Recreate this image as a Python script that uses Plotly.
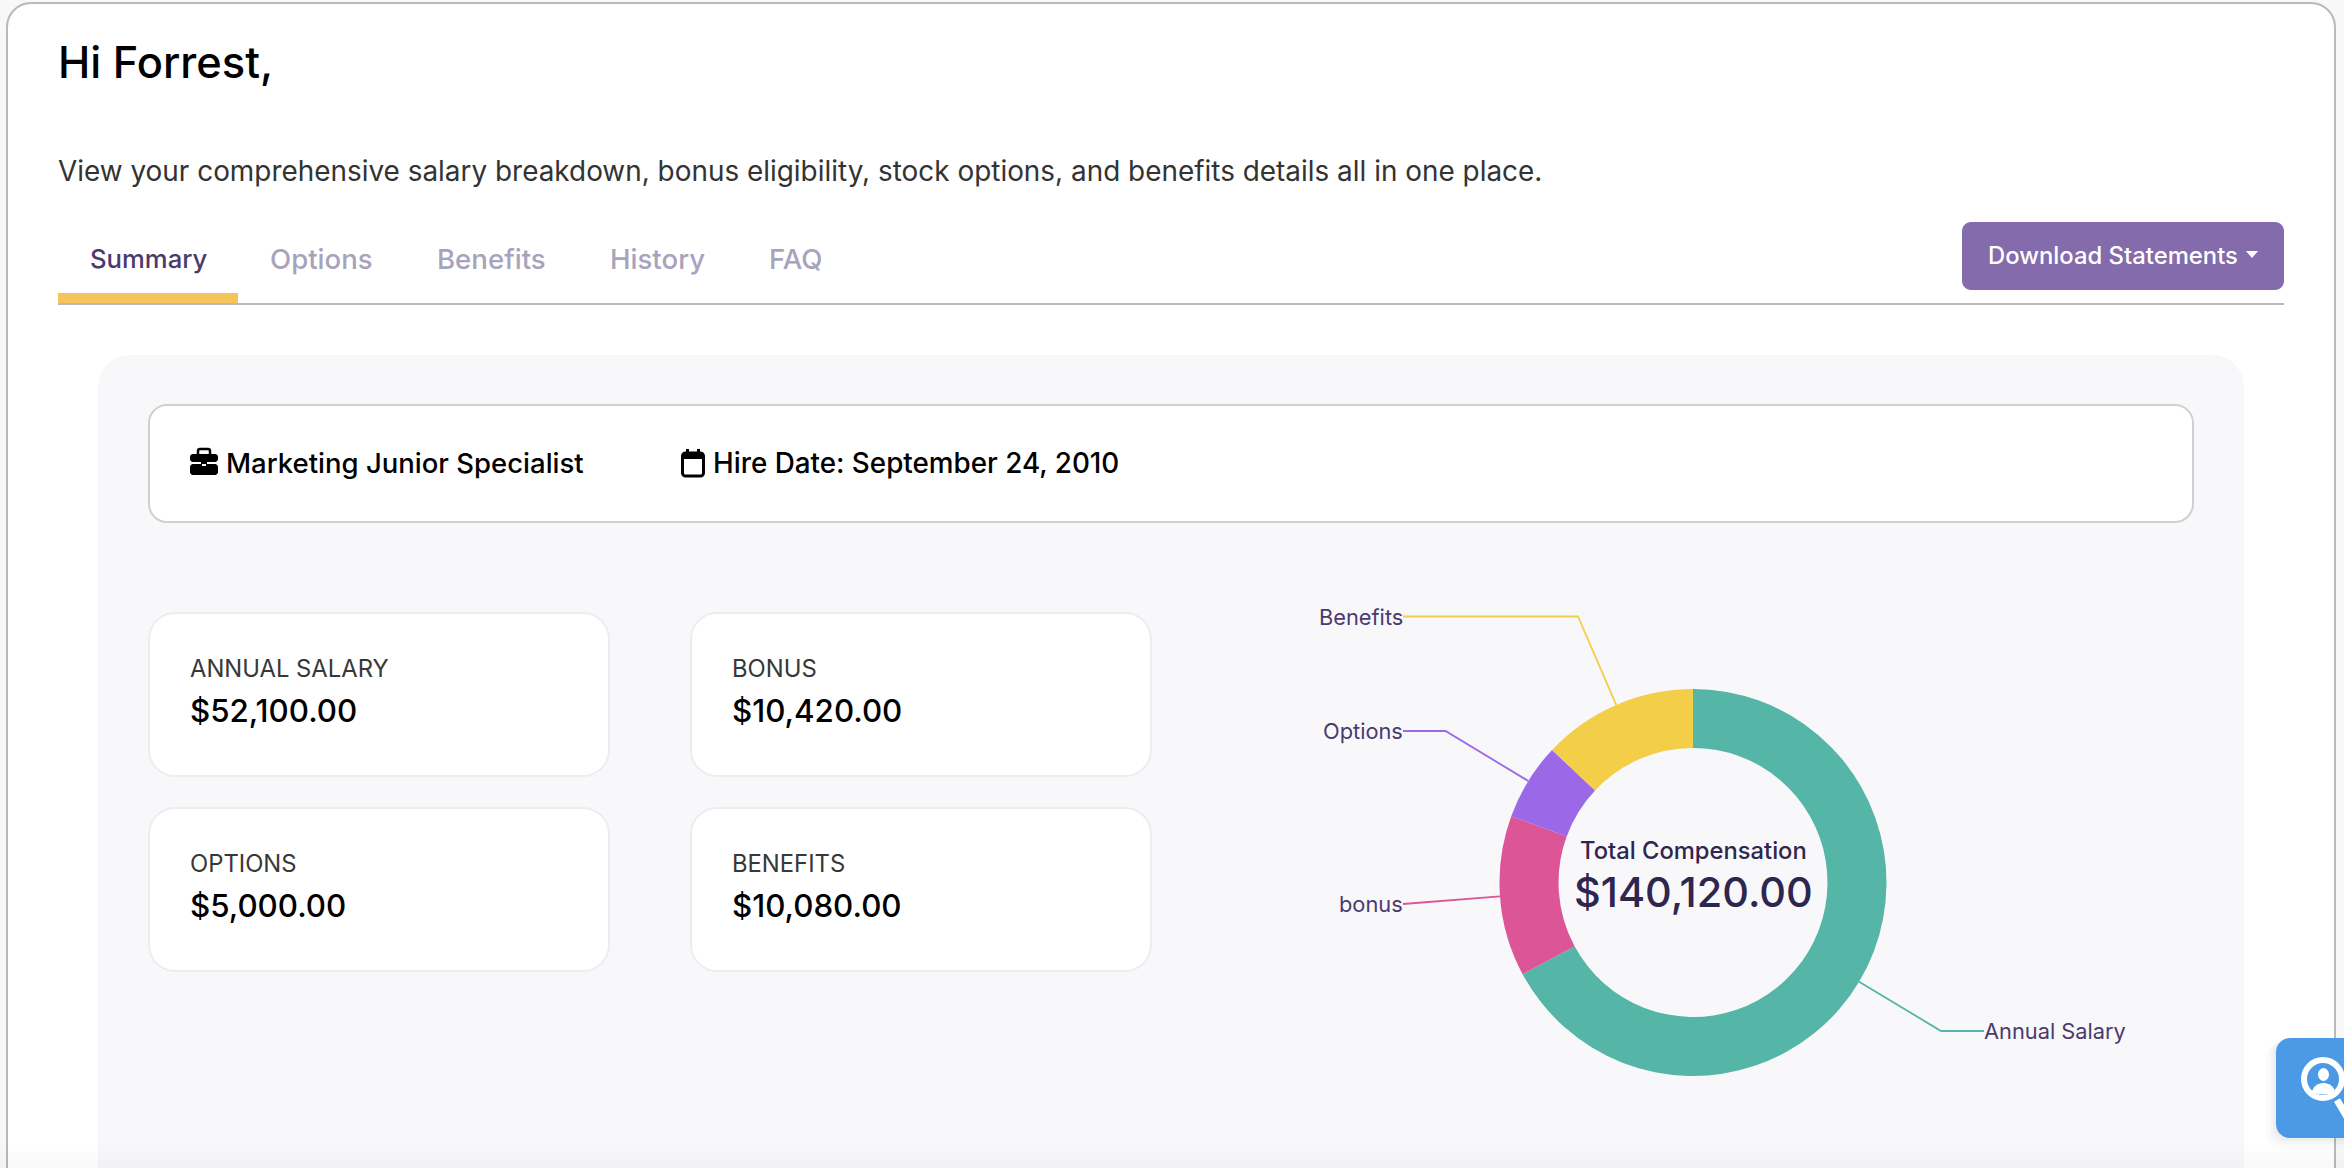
import math
import plotly.graph_objects as go

W = 2344
H = 1168

# chart data
categories = ["Annual Salary", "bonus", "Options", "Benefits"]
values = [52100, 10420, 5000, 10080]
slice_colors = ["#55B5A6", "#DB5597", "#9B68E8", "#F3CE49"]
total_label = "Total Compensation"
total_value = "$140,120.00"

# page text
tabs = ["Summary", "Options", "Benefits", "History", "FAQ"]
tab_x = [90, 270, 437, 610, 769]
card_labels = ["ANNUAL SALARY", "BONUS", "OPTIONS", "BENEFITS"]
card_values = ["$52,100.00", "$10,420.00", "$5,000.00", "$10,080.00"]

FONT = "Inter"
CX, CY, R = 1693, 882.5, 193.5
HOLE = 0.695


def rrect(x0, y0, x1, y1, r, fill, line=None, lw=0):
    k = r * 0.45
    path = (f"M{x0+r},{y0} L{x1-r},{y0} C{x1-k},{y0} {x1},{y0+k} {x1},{y0+r} "
            f"L{x1},{y1-r} C{x1},{y1-k} {x1-k},{y1} {x1-r},{y1} "
            f"L{x0+r},{y1} C{x0+k},{y1} {x0},{y1-k} {x0},{y1-r} "
            f"L{x0},{y0+r} C{x0},{y0+k} {x0+k},{y0} {x0+r},{y0} Z")
    return dict(type="path", path=path, fillcolor=fill, xref="x", yref="y",
                line=dict(color=line or "rgba(0,0,0,0)", width=lw), layer="below")


def rect(x0, y0, x1, y1, fill):
    return dict(type="rect", x0=x0, y0=y0, x1=x1, y1=y1, fillcolor=fill,
                line=dict(width=0), xref="x", yref="y", layer="below")


def poly(path, fill=None, line=None, lw=0):
    return dict(type="path", path=path, fillcolor=fill or "rgba(0,0,0,0)", xref="x", yref="y",
                line=dict(color=line or "rgba(0,0,0,0)", width=lw), layer="above")


def text(x, y, s, size, color, weight=400, anchor="left"):
    # annotations sit a little inside their anchor
    shift = {"left": -2, "right": 3, "center": 0}[anchor]
    return dict(x=x, y=y, xref="x", yref="y", xshift=shift, text=s, showarrow=False,
                xanchor=anchor, yanchor="middle", align=anchor,
                font=dict(family=FONT, size=size, color=color, weight=weight))


shapes = []
annotations = []

# page frame
shapes.append(rrect(7, 3, 2335, 1250, 24, "#FFFFFF", "#B9B9B9", 2))
shapes.append(rrect(98, 355, 2244, 1260, 32, "#F8F8FA"))

# header
annotations.append(text(58, 62, "Hi Forrest,", 43.4, "#000000", 500))
annotations.append(text(58, 171, "View your comprehensive salary breakdown, bonus eligibility, stock options, "
                                 "and benefits details all in one place.", 27.92, "#333333"))
for i, tab in enumerate(tabs):
    if i == 0:
        annotations.append(text(tab_x[i], 258, tab, 25.7, "#4B3A6E", 500))
    else:
        annotations.append(text(tab_x[i], 259, tab, 27.6, "#A8A3BD", 500))
shapes.append(rect(58, 293, 238, 303, "#F7C45C"))
shapes.append(rect(58, 303, 2284, 305, "#B9B9B9"))

# download button
shapes.append(rrect(1962, 222, 2284, 290, 9, "#846BAB"))
annotations.append(text(1988, 255, "Download Statements", 23.85, "#FFFFFF", 500))
shapes.append(poly("M2246,251 L2258,251 L2252,258 Z", "#FFFFFF"))

# job info box
shapes.append(rrect(149, 405, 2193, 522, 18, "#FFFFFF", "#D0D0D0", 2))
annotations.append(text(226, 463, "Marketing Junior Specialist", 27.5, "#000000", 500))
annotations.append(text(713, 463, "Hire Date: September 24, 2010", 27.8, "#000000", 500))

# briefcase icon
shapes.append(poly("M198,454 L198,451 Q198,449 200,449 L208,449 Q210,449 210,451 L210,454", None, "#000000", 2.5))
shapes.append(rrect(190, 454, 218, 462, 3, "#000000"))
shapes[-1]["layer"] = "above"
shapes.append(rrect(190, 464, 218, 475, 3, "#000000"))
shapes[-1]["layer"] = "above"
shapes.append(rect(201, 462, 207, 467, "#000000"))
shapes[-1]["layer"] = "above"
shapes.append(rect(202, 464, 206, 466, "#FFFFFF"))
shapes[-1]["layer"] = "above"

# calendar icon
shapes.append(rrect(682.5, 453, 703.5, 476, 3, "#FFFFFF", "#000000", 3))
shapes[-1]["layer"] = "above"
shapes.append(rect(682, 453, 704, 459, "#000000"))
shapes[-1]["layer"] = "above"
shapes.append(rect(686, 449, 689, 454, "#000000"))
shapes[-1]["layer"] = "above"
shapes.append(rect(697, 449, 700, 454, "#000000"))
shapes[-1]["layer"] = "above"

# stat cards
card_x = [149, 691, 149, 691]
card_y = [613, 613, 808, 808]
for i in range(4):
    shapes.append(rrect(card_x[i], card_y[i], card_x[i] + 460, card_y[i] + 163, 26, "#FFFFFF", "#ECEDF1", 2))
    annotations.append(text(card_x[i] + 41, card_y[i] + 55, card_labels[i], 23.8, "#383838"))
    annotations.append(text(card_x[i] + 41, card_y[i] + 97.5, card_values[i], 31.3, "#000000", 500))

# donut leader lines, anchored on the middle of each slice
label_y = [1031, 904, 731, 616.5]
elbow_x = [1941, None, 1445.5, 1578]
label_x = [1984, 1403, 1403, 1403]
total = sum(values)
acc = 0
for i, name in enumerate(categories):
    mid = (acc + values[i] / 2) / total * 2 * math.pi
    acc += values[i]
    px = CX + R * math.sin(mid)
    py = CY - R * math.cos(mid)
    path = f"M{px:.1f},{py:.1f} "
    if elbow_x[i] is not None:
        path += f"L{elbow_x[i]},{label_y[i]} "
    path += f"L{label_x[i]},{label_y[i]}"
    shapes.append(poly(path, None, slice_colors[i], 1.8))
    anchor = "left" if i == 0 else "right"
    offset = 0 if i == 0 else -1
    annotations.append(text(label_x[i] + offset, label_y[i], name, 21.8, "#4B3A6E", 400, anchor))

annotations.append(text(CX, 850, total_label, 23.75, "#2F2650", 500, "center"))
annotations.append(text(CX, 892, total_value, 41.4, "#2F2650", 500, "center"))

# help widget
for spread, alpha in [(10, 0.02), (6, 0.03), (3, 0.04)]:
    shapes.append(rrect(2276 - spread, 1038 + spread / 2, 2370, 1138 + spread, 14, f"rgba(60,70,110,{alpha})"))
    shapes[-1]["layer"] = "above"
shapes.append(rrect(2276, 1038, 2380, 1138, 14, "#4A9AE6"))
shapes[-1]["layer"] = "above"
shapes.append(dict(type="circle", x0=2304, y0=1060, x1=2342, y1=1098, xref="x", yref="y", layer="above",
                   fillcolor="rgba(0,0,0,0)", line=dict(color="#FFFFFF", width=6)))
shapes.append(poly("M2337,1100 L2350,1122", None, "#FFFFFF", 7))
shapes.append(dict(type="circle", x0=2318, y0=1068, x1=2329, y1=1081, xref="x", yref="y", layer="above",
                   fillcolor="#FFFFFF", line=dict(width=0)))
shapes.append(poly("M2312,1092 Q2313,1085 2322,1083 L2325,1083 Q2334,1085 2335,1092 Q2324,1097 2312,1092 Z", "#FFFFFF"))

# slight fade at the bottom of the screenshot
for i in range(6):
    shapes.append(rect(0, 1168 - (i + 1) * 4, W, 1168, "rgba(40,40,60,0.004)"))
    shapes[-1]["layer"] = "above"

fig = go.Figure(go.Pie(
    labels=categories,
    values=values,
    hole=HOLE,
    sort=False,
    direction="clockwise",
    rotation=0,
    textinfo="none",
    marker=dict(colors=slice_colors, line=dict(width=0)),
    domain=dict(x=[(CX - R) / W, (CX + R) / W], y=[1 - (CY + R) / H, 1 - (CY - R) / H]),
    showlegend=False,
))
fig.update_layout(
    width=W,
    height=H,
    autosize=False,
    margin=dict(l=0, r=0, t=0, b=0),
    paper_bgcolor="#F8F8F8",
    plot_bgcolor="rgba(0,0,0,0)",
    xaxis=dict(range=[0, W], visible=False, domain=[0, 1], fixedrange=True),
    yaxis=dict(range=[H, 0], visible=False, domain=[0, 1], fixedrange=True),
    shapes=shapes,
    annotations=annotations,
)
fig.write_html("out.html", config=dict(displayModeBar=False),
               post_script="document.body.style.margin='0';document.body.style.overflow='hidden';")
